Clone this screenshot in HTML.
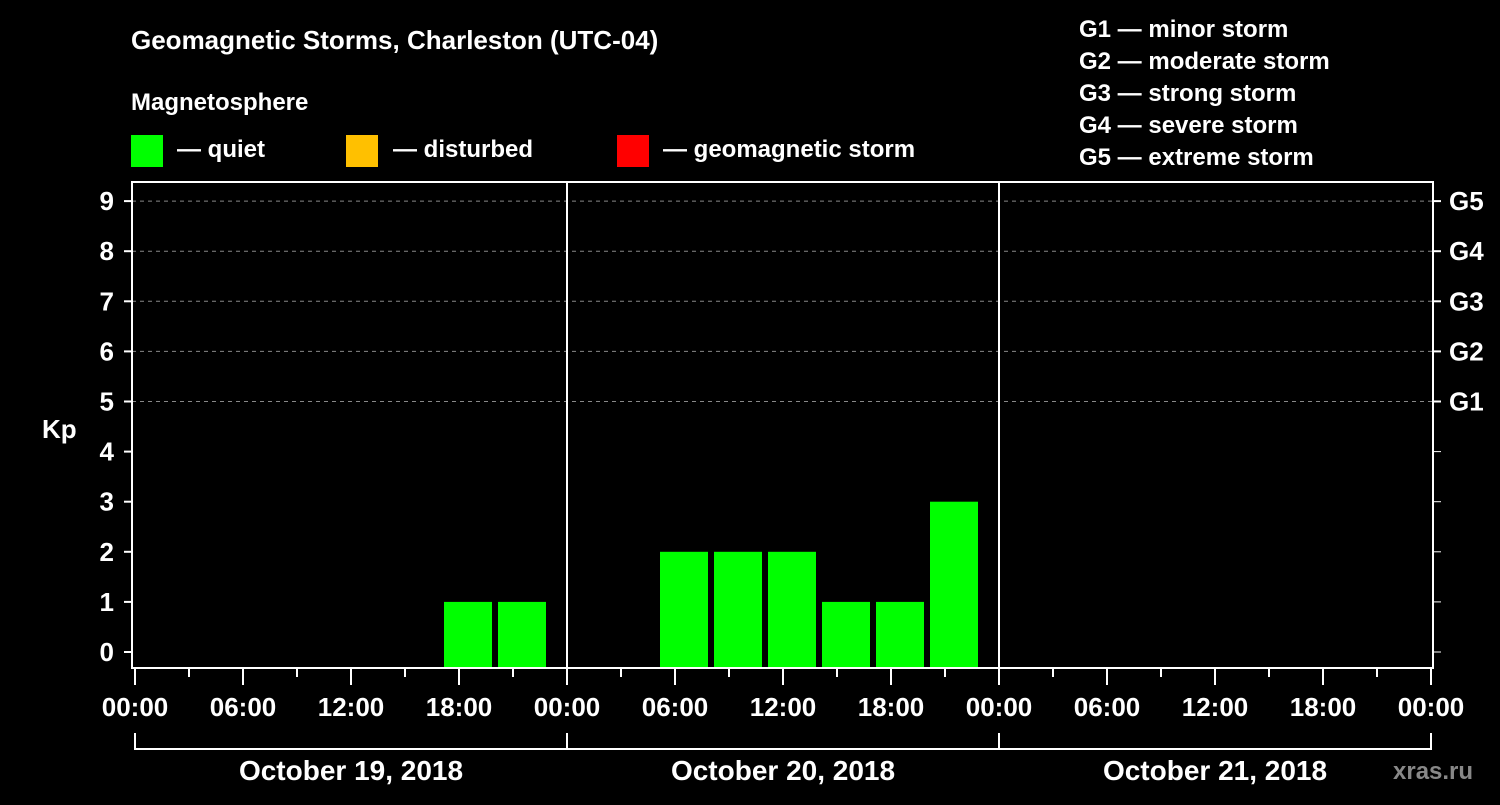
<!DOCTYPE html>
<html><head><meta charset="utf-8"><style>
html,body{margin:0;padding:0;background:#000;}
svg text{font-family:"Liberation Sans",Arial,sans-serif;font-weight:bold;fill:#fff;}
</style></head><body>
<svg id="chart" width="1500" height="800" viewBox="0 0 1500 800" xmlns="http://www.w3.org/2000/svg">
<rect x="0" y="0" width="1500" height="800" fill="#000"/>
<text x="131" y="49" font-size="26">Geomagnetic Storms, Charleston (UTC-04)</text>
<text x="131" y="110" font-size="24">Magnetosphere</text>
<g>
<rect x="131" y="135" width="32" height="32" fill="#00ff00"/>
<text x="177" y="157" font-size="24">— quiet</text>
<rect x="346" y="135" width="32" height="32" fill="#ffc000"/>
<text x="393" y="157" font-size="24">— disturbed</text>
<rect x="617" y="135" width="32" height="32" fill="#ff0000"/>
<text x="663" y="157" font-size="24">— geomagnetic storm</text>
</g>
<g font-size="24">
<text x="1079" y="37">G1 — minor storm</text>
<text x="1079" y="69">G2 — moderate storm</text>
<text x="1079" y="101">G3 — strong storm</text>
<text x="1079" y="133">G4 — severe storm</text>
<text x="1079" y="165">G5 — extreme storm</text>
</g>
<text x="42" y="438" font-size="26">Kp</text>
<g id="plot"></g>
<text x="1393" y="779" font-size="24" fill="#888" style="fill:#888">xras.ru</text>
</svg>
<script>
const dayLabels = ["October 19, 2018","October 20, 2018","October 21, 2018"];
const hourLabels = ["00:00","06:00","12:00","18:00"];
const kpTicks = [0,1,2,3,4,5,6,7,8,9];
const gLabels = ["G1","G2","G3","G4","G5"];
const gLevels = [5,6,7,8,9];
// Kp values per 3-hour bin (centers at 0.5h + 3k local time), null = no data
const kpDay1 = [0,0,0,0,0,0,1,1];
const kpDay2 = [0,0,2,2,2,1,1,3];
const kpDay3 = [null,null,null,null,null,null,null,null];
const kpSeries = [kpDay1,kpDay2,kpDay3];

const NS="http://www.w3.org/2000/svg";
const plot=document.getElementById('plot');
const X0=135, DAYW=432, L=132, R=1433, T=182, B=668;
function xh(h){return X0+h*DAYW/24;}
function yk(k){return 652-k*50.1;}
function mk(tag,attrs){const e=document.createElementNS(NS,tag);for(const k in attrs)e.setAttribute(k,attrs[k]);plot.appendChild(e);return e;}

gLevels.forEach((g,i)=>{
  const l=mk('line',{x1:L,x2:R,y1:yk(g),y2:yk(g),stroke:'#888','stroke-width':1,'stroke-dasharray':'4,4'});
  
  
  const t=mk('text',{x:1449,y:yk(g)+9,'font-size':26});
  t.textContent=gLabels[i];
  
  
  const tk=mk('line',{x1:R,x2:R+8,y1:yk(g),y2:yk(g),stroke:'#fff','stroke-width':2});
  
  
});
[1,2,3,4,0].forEach(k=>{
  const tk=mk('line',{x1:R,x2:R+8,y1:yk(k),y2:yk(k),stroke:'#fff','stroke-width':1});
  
  
});
kpTicks.forEach(k=>{
  const tk=mk('line',{x1:L-8,x2:L,y1:yk(k),y2:yk(k),stroke:'#fff','stroke-width':2});
  
  
  const t=mk('text',{x:114,y:yk(k)+9,'font-size':26,'text-anchor':'end'});
  t.textContent=k;
  
  
});
kpSeries.forEach((series,d)=>{
  series.forEach((v,i)=>{
    if(v===null||v<=0)return;
    const cx=xh(d*24+0.5+3*i);
    const r=mk('rect',{x:cx-24,y:yk(v),width:48,height:B-yk(v),fill:'#00ff00'});
    
    
  });
});
for(let d=1;d<dayLabels.length;d++){
  const l=mk('line',{x1:xh(d*24),x2:xh(d*24),y1:T,y2:B,stroke:'#fff','stroke-width':2});
  
  
}
const fr=mk('rect',{x:L,y:T,width:R-L,height:B-T,fill:'none',stroke:'#fff','stroke-width':2});


for(let h=0;h<=72;h+=3){
  const major=h%6===0;
  const tk=mk('line',{x1:xh(h),x2:xh(h),y1:B,y2:B+(major?17:9),stroke:'#fff','stroke-width':2});
  
  
  if(major){
    const t=mk('text',{x:xh(h),y:716,'font-size':26,'text-anchor':'middle'});
    t.textContent=h===72?hourLabels[0]:hourLabels[(h%24)/6];
    
    
  }
}
const br=mk('line',{x1:xh(0),x2:xh(72),y1:749,y2:749,stroke:'#fff','stroke-width':2});


for(let d=0;d<=dayLabels.length;d++){
  const v=mk('line',{x1:xh(d*24),x2:xh(d*24),y1:733,y2:750,stroke:'#fff','stroke-width':2});
  
  
}
dayLabels.forEach((s,d)=>{
  const t=mk('text',{x:xh(d*24+12),y:780,'font-size':28,'text-anchor':'middle'});
  t.textContent=s;
  
  
});
</script>
</body></html>
